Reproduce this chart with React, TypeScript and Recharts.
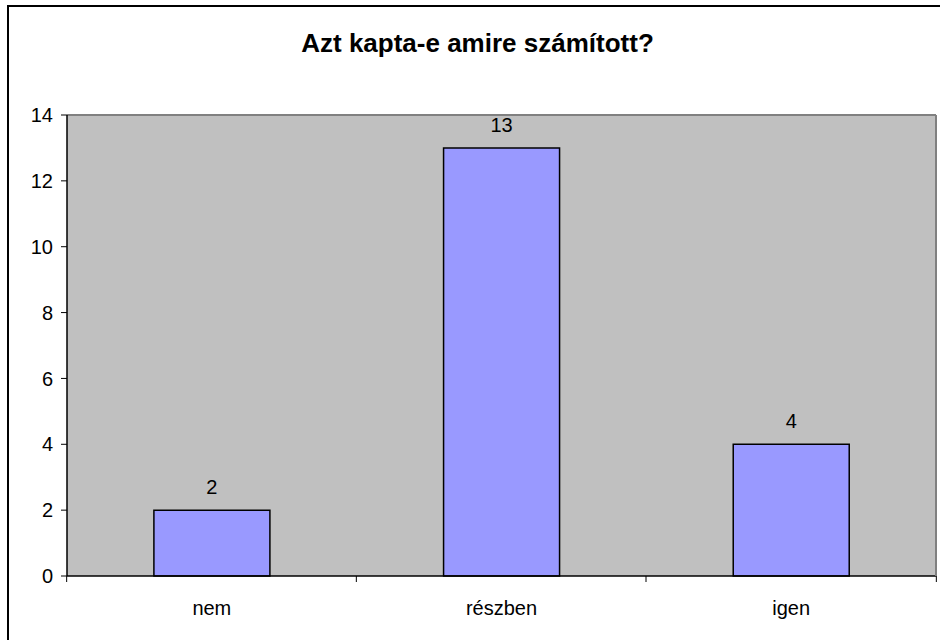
import React from "react";
import { BarChart, Bar, XAxis, YAxis, CartesianGrid, ReferenceLine } from "recharts";

const categories = ["nem", "részben", "igen"];
const answers = [2, 13, 4];
const yTicks = [0, 2, 4, 6, 8, 10, 12, 14];

const data = categories.map((c, i) => ({ name: c, value: answers[i] }));

const FONT = "Arial, 'Liberation Sans', sans-serif";

// Excel-style category ticks: marks sit on the category boundaries, not the centres
function CategoryTick(props: any) {
  const { x, y, payload, index } = props;
  const band = 871 / categories.length;
  const left = x - band / 2;
  return (
    <g>
      <line x1={left} y1={y - 8} x2={left} y2={y - 2} stroke="#000" />
      {index === categories.length - 1 && (
        <line x1={left + band} y1={y - 8} x2={left + band} y2={y - 2} stroke="#000" />
      )}
      <text x={x} y={y + 31} textAnchor="middle" fontSize={20} fill="#000" fontFamily={FONT}>
        {payload.value}
      </text>
    </g>
  );
}

export default function App() {
  return (
    <div style={{ position: "absolute", left: 0, top: 0, width: 940, height: 640, background: "#fff", overflow: "hidden" }}>
      <div
        style={{
          position: "absolute",
          left: 7,
          top: 5,
          width: 960,
          height: 660,
          border: "2px solid #000",
        }}
      />
      <div
        style={{
          position: "absolute",
          left: 0,
          top: 28,
          width: 955,
          textAlign: "center",
          fontFamily: FONT,
          fontWeight: "bold",
          fontSize: 26,
          lineHeight: "30px",
          color: "#000",
        }}
      >
        Azt kapta-e amire számított?
      </div>
      <div style={{ position: "absolute", left: 0, top: 0 }}>
        <BarChart
          width={940}
          height={640}
          data={data}
          margin={{ top: 115, right: 2, bottom: 0, left: 0 }}
          barCategoryGap="30%"
        >
          <CartesianGrid horizontal={false} vertical={false} fill="#c0c0c0" />
          <ReferenceLine y={14} stroke="#808080" strokeWidth={2} />
          <XAxis
            dataKey="name"
            height={64}
            axisLine={{ stroke: "#000", strokeWidth: 1.5 }}
            tickLine={false}
            tick={<CategoryTick />}
            interval={0}
          />
          <YAxis
            width={67}
            domain={[0, 14]}
            ticks={yTicks}
            interval={0}
            axisLine={{ stroke: "#000", strokeWidth: 1.5 }}
            tickLine={{ stroke: "#000" }}
            tickSize={6}
            tickMargin={8}
            tick={{ fill: "#000", fontSize: 20, fontFamily: FONT }}
          />
          <YAxis
            yAxisId="frame"
            orientation="right"
            width={2}
            domain={[0, 14]}
            axisLine={{ stroke: "#808080", strokeWidth: 2 }}
            tick={false}
            tickLine={false}
          />
          <Bar
            dataKey="value"
            fill="#9999ff"
            stroke="#000"
            strokeWidth={1.5}
            isAnimationActive={false}
            label={{ position: "top", offset: 16, fill: "#000", fontSize: 20, fontFamily: FONT }}
          />
        </BarChart>
      </div>
    </div>
  );
}
